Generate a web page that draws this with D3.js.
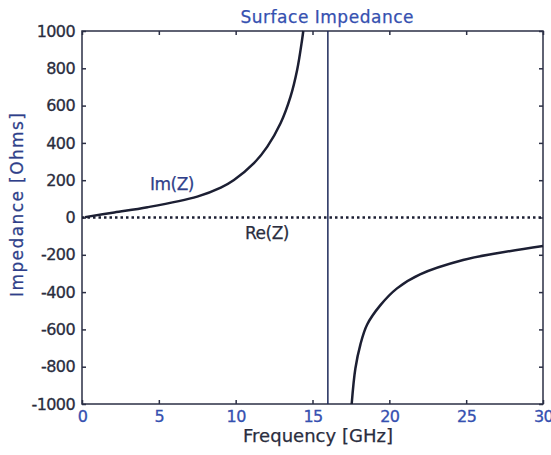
<!DOCTYPE html>
<html>
<head>
<meta charset="utf-8">
<script src="https://cdn.jsdelivr.net/npm/d3@7"></script>
<style>
  body { margin: 0; background: #fff; }
  text { font-family: "DejaVu Sans", sans-serif; }
</style>
</head>
<body>
<svg id="chart" width="551" height="455"></svg>
<script>
// values
var xTicks = [0, 5, 10, 15, 20, 25, 30];
var yTicks = [-1000, -800, -600, -400, -200, 0, 200, 400, 600, 800, 1000];

// Im(Z), branch below the resonance
var imLowF = [0.2, 2.1, 4.26, 7.5, 9.03, 9.89, 11.19, 12.06, 12.92, 13.57, 14.0, 14.32, 14.4];
var imLowV = [2, 27, 55, 112, 160, 201, 291, 380, 505, 648, 791, 952, 1000];

// Im(Z), branch above the resonance
var imHighF = [17.55, 17.79, 18.12, 18.55, 19.42, 20.5, 22.0, 24.8, 27.0, 30];
var imHighV = [-1000, -810, -680, -575, -470, -380, -305, -228, -192, -153];

// Re(Z) stays at zero
var reF = [0, 30];
var reV = [0, 0];

var resonance = 16;

var svg = d3.select("#chart");
var margin = {left: 82, right: 8, top: 31, bottom: 51};
var width = 551 - margin.left - margin.right,
    height = 455 - margin.top - margin.bottom;

var x = d3.scaleLinear().domain([0, 30]).range([margin.left, margin.left + width]);
var y = d3.scaleLinear().domain([-1000, 1000]).range([margin.top + height, margin.top]);

var boxColor = "#2b2f45";
var inkColor = "#1c1f33";
var blue = "#3550b0";
var dark = "#2a2d3e";

// plain hyphen for negatives, as in the picture
var fmt = function(d) { return String(d); };

// plot box
svg.append("rect")
    .attr("x", x(0)).attr("y", y(1000))
    .attr("width", x(30) - x(0)).attr("height", y(-1000) - y(1000))
    .attr("fill", "none").attr("stroke", boxColor).attr("stroke-width", 1.5);

// inward ticks on all four sides
var tl = 4;
var bottomAxis = d3.axisBottom(x).tickValues(xTicks).tickSize(-tl).tickFormat(fmt).tickPadding(7);
var topAxis = d3.axisTop(x).tickValues(xTicks).tickSize(-tl).tickFormat("");
var leftAxis = d3.axisLeft(y).tickValues(yTicks).tickSize(-tl).tickFormat(fmt).tickPadding(7);
var rightAxis = d3.axisRight(y).tickValues(yTicks).tickSize(-tl).tickFormat("");

function styleAxis(g, color) {
    g.select(".domain").remove();
    g.selectAll(".tick line").attr("stroke", boxColor).attr("stroke-width", 1.5);
    g.selectAll(".tick text")
        .attr("fill", color)
        .attr("stroke", color)
        .attr("stroke-width", 0.3)
        .style("font-size", "16px")
        .style("letter-spacing", "-0.6px");
}

svg.append("g").attr("transform", "translate(0," + y(-1000) + ")").call(bottomAxis).call(styleAxis, blue);
svg.append("g").attr("transform", "translate(0," + y(1000) + ")").call(topAxis).call(styleAxis, blue);
svg.append("g").attr("transform", "translate(" + x(0) + ",0)").call(leftAxis).call(styleAxis, dark);
svg.append("g").attr("transform", "translate(" + x(30) + ",0)").call(rightAxis).call(styleAxis, dark);

// vertical line at resonance
svg.append("line")
    .attr("x1", x(resonance)).attr("x2", x(resonance))
    .attr("y1", y(1000)).attr("y2", y(-1000))
    .attr("stroke", "#1e2a5a").attr("stroke-width", 1.5);

// Re(Z) dotted
var line = d3.line()
    .x(function(d) { return x(d[0]); })
    .y(function(d) { return y(d[1]); });

svg.append("path")
    .datum(d3.zip(reF, reV))
    .attr("d", line)
    .attr("fill", "none")
    .attr("stroke", inkColor)
    .attr("stroke-width", 2.5)
    .attr("stroke-dasharray", "2.5,3");

// Im(Z) branches
var curve = d3.line()
    .x(function(d) { return x(d[0]); })
    .y(function(d) { return y(d[1]); })
    .curve(d3.curveCatmullRom.alpha(0.5));

svg.append("path")
    .datum(d3.zip(imLowF, imLowV))
    .attr("d", curve)
    .attr("fill", "none").attr("stroke", inkColor).attr("stroke-width", 2.5);

svg.append("path")
    .datum(d3.zip(imHighF, imHighV))
    .attr("d", curve)
    .attr("fill", "none").attr("stroke", inkColor).attr("stroke-width", 2.5);

// labels
function label(t, color, size) {
    return t.attr("fill", color)
        .attr("stroke", color)
        .attr("stroke-width", 0.25)
        .style("font-size", size + "px");
}

label(svg.append("text").attr("x", 150).attr("y", 190), "#2f3f8a", 17)
    .style("letter-spacing", "-0.5px")
    .text("Im(Z)");

label(svg.append("text").attr("x", 245).attr("y", 239), dark, 17)
    .style("letter-spacing", "-0.5px")
    .text("Re(Z)");

label(svg.append("text").attr("x", 327).attr("y", 23).attr("text-anchor", "middle"), blue, 17)
    .attr("textLength", 173)
    .text("Surface Impedance");

label(svg.append("text").attr("x", 318).attr("y", 442).attr("text-anchor", "middle"), dark, 18)
    .attr("textLength", 150)
    .text("Frequency [GHz]");

label(svg.append("text").attr("transform", "translate(23,205) rotate(-90)").attr("text-anchor", "middle"), "#2f3f8a", 17)
    .attr("textLength", 184)
    .text("Impedance [Ohms]");
</script>
</body>
</html>
